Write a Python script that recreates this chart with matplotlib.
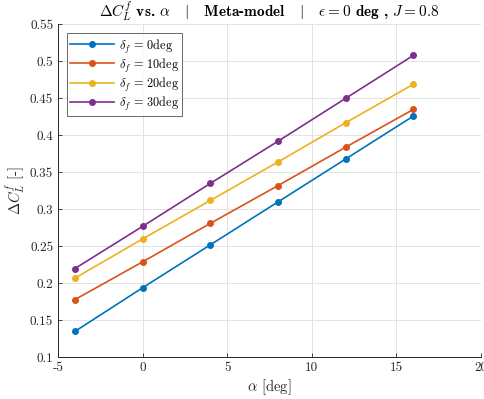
import matplotlib
matplotlib.use("Agg")
import matplotlib.pyplot as plt

plt.rcParams['font.family'] = 'serif'
plt.rcParams['font.serif'] = ['cmr10', 'DejaVu Serif']
plt.rcParams['mathtext.fontset'] = 'cm'
plt.rcParams['axes.unicode_minus'] = False
plt.rcParams['axes.formatter.use_mathtext'] = True

alpha = [-4, 0, 4, 8, 12, 16]
dcl_0 = [0.135, 0.194, 0.252, 0.310, 0.368, 0.426]
dcl_10 = [0.178, 0.229, 0.281, 0.332, 0.384, 0.435]
dcl_20 = [0.207, 0.260, 0.312, 0.364, 0.417, 0.469]
dcl_30 = [0.220, 0.277, 0.335, 0.392, 0.450, 0.508]
series = [dcl_0, dcl_10, dcl_20, dcl_30]
labels = [r'$\delta_f\,=\,0$deg', r'$\delta_f\,=\,10$deg', r'$\delta_f\,=\,20$deg', r'$\delta_f\,=\,30$deg']
colors = ['#0072BD', '#D95319', '#EDB120', '#7E2F8E']

xticks = [-5, 0, 5, 10, 15, 20]
xticklabels = ['-5', '0', '5', '10', '15', '20']
yticks = [0.1, 0.15, 0.2, 0.25, 0.3, 0.35, 0.4, 0.45, 0.5, 0.55]
yticklabels = ['0.1', '0.15', '0.2', '0.25', '0.3', '0.35', '0.4', '0.45', '0.5', '0.55']

fig = plt.figure(figsize=(4.85, 3.99), dpi=100)
ax = fig.add_axes([0.1196, 0.1045, 0.8722, 0.8345])

for ys, lab, c in zip(series, labels, colors):
    ax.plot(alpha, ys, '-o', color=c, lw=1.2, ms=4, label=lab)

ax.set_xlim(-5, 20)
ax.set_ylim(0.1, 0.55)
ax.set_xticks(xticks)
ax.set_xticklabels(xticklabels)
ax.set_yticks(yticks)
ax.set_yticklabels(yticklabels)
ax.grid(True, color='#e3e3e3', lw=0.7)
ax.set_axisbelow(True)
for s in ['top', 'right']:
    ax.spines[s].set_visible(False)
for s in ['left', 'bottom']:
    ax.spines[s].set_color('#262626')
    ax.spines[s].set_linewidth(0.7)
ax.tick_params(direction='in', length=3, width=0.6, colors='#262626', labelsize=9.5)

ax.set_xlabel(r'$\alpha$ [deg]', fontsize=10.5, color='#262626', labelpad=2)
ax.set_ylabel(r'$\Delta C_L^f$ [-]', fontsize=10.5, color='#262626', labelpad=2)
ax.set_title(r'$\Delta C_L^f$ vs. $\alpha$   $|$   Meta-model   $|$   $\epsilon = 0$ deg , $J = 0.8$',
             fontsize=11, family='cmb10', pad=5)

leg = ax.legend(loc='upper left', fontsize=8.8, frameon=True, fancybox=False,
                handlelength=3.6, borderaxespad=0.7, labelspacing=0.1,
                handletextpad=0.35, borderpad=0.3)
leg.get_frame().set_edgecolor('#262626')
leg.get_frame().set_linewidth(0.6)

fig.savefig('out.png', dpi=100)
